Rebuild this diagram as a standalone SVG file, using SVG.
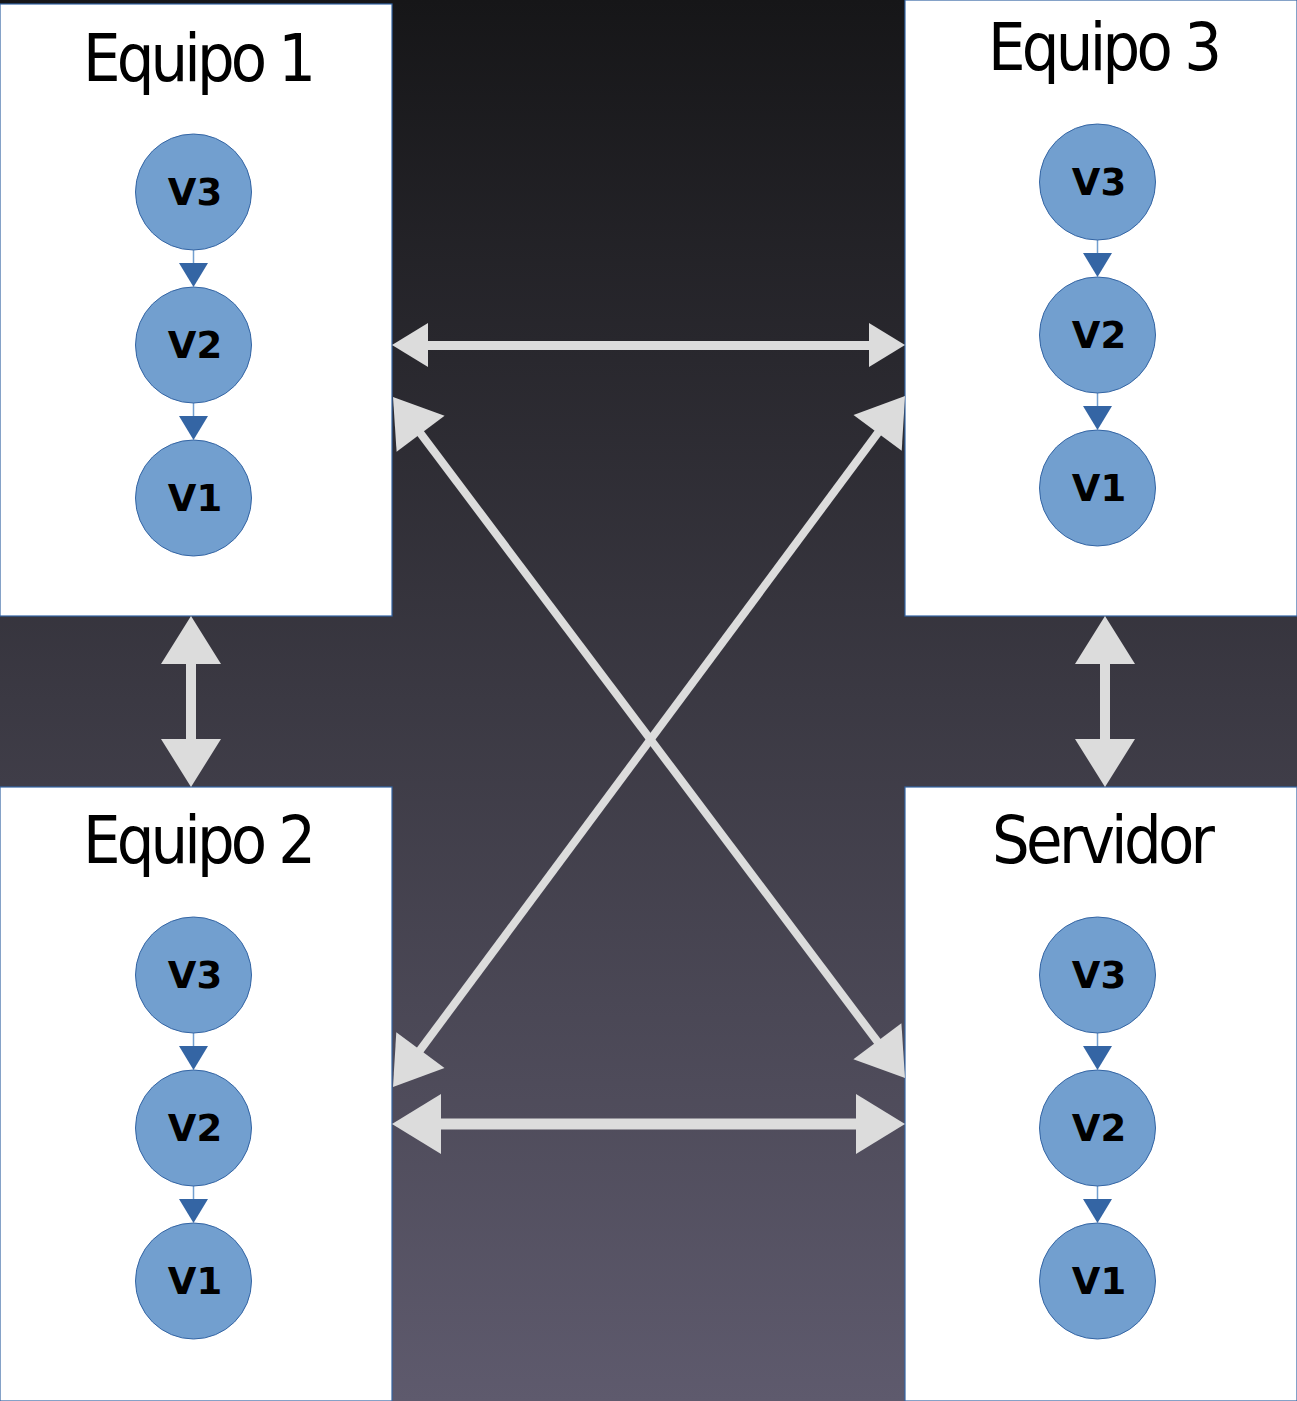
<svg xmlns="http://www.w3.org/2000/svg" width="1297" height="1401" viewBox="0 0 1297 1401">
<defs>
<linearGradient id="bg" x1="0" y1="0" x2="0" y2="1">
<stop offset="0" stop-color="#161618"/>
<stop offset="0.5" stop-color="#3b3943"/>
<stop offset="1" stop-color="#5e5a6d"/>
</linearGradient>
<style>
.box{fill:#ffffff;stroke:#3465a4;stroke-width:1.2}
.title{font-family:"DejaVu Sans",sans-serif;font-stretch:condensed;font-size:66px;fill:#000000}
.ver{fill:#729fcf;stroke:#3465a4;stroke-width:1}
.vl{font-family:"DejaVu Sans",sans-serif;font-weight:bold;font-size:37px;fill:#000000;text-anchor:middle}
.link{stroke:#729fcf;stroke-width:1.5;fill:none}
.tri{fill:#3465a4}
.big{fill:#dcdcdc}
.shaft{stroke:#dcdcdc;fill:none}
</style>
</defs>
<rect x="0" y="0" width="1297" height="1401" fill="url(#bg)"/>

<g id="equipo1">
<rect class="box" x="0" y="4" width="392" height="612"/>
<text class="title" x="83" y="81" textLength="233" lengthAdjust="spacing">Equipo 1</text>
<line class="link" x1="193.5" y1="250" x2="193.5" y2="264"/>
<polygon class="tri" points="179,263 208,263 193.5,287"/>
<line class="link" x1="193.5" y1="403" x2="193.5" y2="417"/>
<polygon class="tri" points="179,416 208,416 193.5,440"/>
<circle class="ver" cx="193.5" cy="192" r="58"/>
<text class="vl" x="195" y="205">V3</text>
<circle class="ver" cx="193.5" cy="345" r="58"/>
<text class="vl" x="195" y="358">V2</text>
<circle class="ver" cx="193.5" cy="498" r="58"/>
<text class="vl" x="195" y="511">V1</text>
</g>

<g id="equipo3">
<rect class="box" x="905" y="0" width="392" height="616"/>
<text class="title" x="988" y="70" textLength="234" lengthAdjust="spacing">Equipo 3</text>
<line class="link" x1="1097.5" y1="240" x2="1097.5" y2="254"/>
<polygon class="tri" points="1083,253 1112,253 1097.5,277"/>
<line class="link" x1="1097.5" y1="393" x2="1097.5" y2="407"/>
<polygon class="tri" points="1083,406 1112,406 1097.5,430"/>
<circle class="ver" cx="1097.5" cy="182" r="58"/>
<text class="vl" x="1099" y="195">V3</text>
<circle class="ver" cx="1097.5" cy="335" r="58"/>
<text class="vl" x="1099" y="348">V2</text>
<circle class="ver" cx="1097.5" cy="488" r="58"/>
<text class="vl" x="1099" y="501">V1</text>
</g>

<g id="equipo2">
<rect class="box" x="0" y="787" width="392" height="614"/>
<text class="title" x="83" y="863" textLength="233" lengthAdjust="spacing">Equipo 2</text>
<line class="link" x1="193.5" y1="1033" x2="193.5" y2="1047"/>
<polygon class="tri" points="179,1046 208,1046 193.5,1070"/>
<line class="link" x1="193.5" y1="1186" x2="193.5" y2="1200"/>
<polygon class="tri" points="179,1199 208,1199 193.5,1223"/>
<circle class="ver" cx="193.5" cy="975" r="58"/>
<text class="vl" x="195" y="988">V3</text>
<circle class="ver" cx="193.5" cy="1128" r="58"/>
<text class="vl" x="195" y="1141">V2</text>
<circle class="ver" cx="193.5" cy="1281" r="58"/>
<text class="vl" x="195" y="1294">V1</text>
</g>

<g id="servidor">
<rect class="box" x="905" y="787" width="392" height="614"/>
<text class="title" x="992" y="863" textLength="223" lengthAdjust="spacing">Servidor</text>
<line class="link" x1="1097.5" y1="1033" x2="1097.5" y2="1047"/>
<polygon class="tri" points="1083,1046 1112,1046 1097.5,1070"/>
<line class="link" x1="1097.5" y1="1186" x2="1097.5" y2="1200"/>
<polygon class="tri" points="1083,1199 1112,1199 1097.5,1223"/>
<circle class="ver" cx="1097.5" cy="975" r="58"/>
<text class="vl" x="1099" y="988">V3</text>
<circle class="ver" cx="1097.5" cy="1128" r="58"/>
<text class="vl" x="1099" y="1141">V2</text>
<circle class="ver" cx="1097.5" cy="1281" r="58"/>
<text class="vl" x="1099" y="1294">V1</text>
</g>

<g id="connectors">
<line class="shaft" stroke-width="9" x1="425" y1="345.5" x2="872" y2="345.5"/>
<polygon class="big" points="392,345 428,323 428,367"/>
<polygon class="big" points="905,345 869,323 869,367"/>
<line class="shaft" stroke-width="11" x1="438" y1="1124" x2="859" y2="1124"/>
<polygon class="big" points="392,1124 441,1094 441,1154"/>
<polygon class="big" points="905,1124 856,1094 856,1154"/>
<line class="shaft" stroke-width="10" x1="191" y1="661" x2="191" y2="742"/>
<polygon class="big" points="191,616 161,664 221,664"/>
<polygon class="big" points="191,787 161,739 221,739"/>
<line class="shaft" stroke-width="10" x1="1105" y1="661" x2="1105" y2="742"/>
<polygon class="big" points="1105,616 1075,664 1135,664"/>
<polygon class="big" points="1105,787 1075,739 1135,739"/>
<line class="shaft" stroke-width="8" x1="418" y1="430" x2="880" y2="1045"/>
<polygon class="big" points="393,397 444.6,415.8 396.6,451.8"/>
<polygon class="big" points="905,1078 853.4,1059.2 901.4,1023.2"/>
<line class="shaft" stroke-width="8" x1="880" y1="430" x2="418" y2="1053"/>
<polygon class="big" points="905,396 901.7,450.8 853.5,415"/>
<polygon class="big" points="393,1087 396.3,1032.3 444.5,1068"/>
</g>
</svg>
